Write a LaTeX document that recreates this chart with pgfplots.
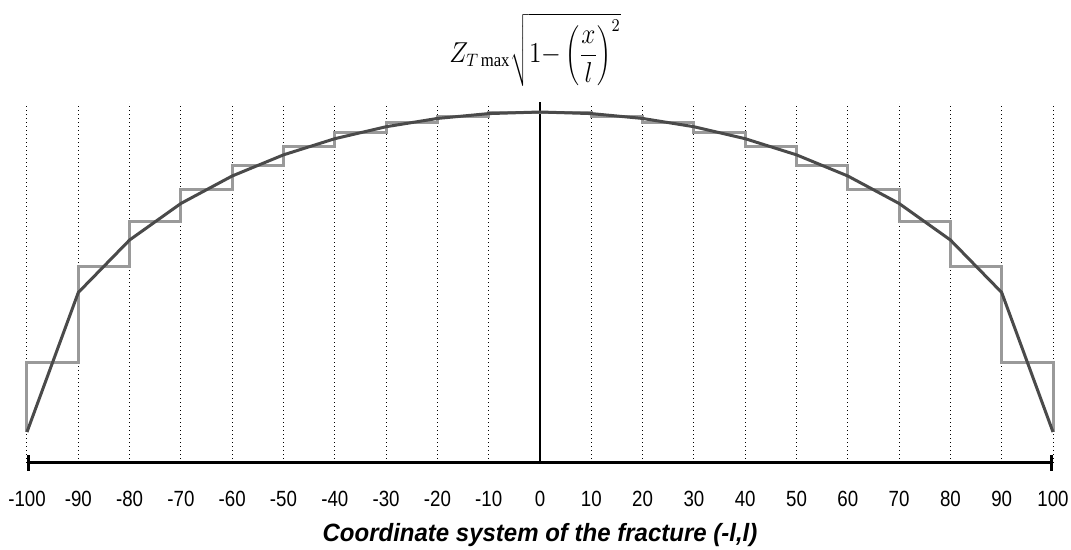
\documentclass[border=0pt]{standalone}
\usepackage{fontspec}
\setmainfont{Liberation Sans}
\newfontfamily\narrowfont[FakeStretch=0.85]{Liberation Sans}
\newfontfamily\labelfont[FakeStretch=0.96]{Liberation Sans}
\newfontfamily\seriffont{Liberation Serif}
\usepackage{graphicx}
\usepackage{pgfplots}
\pgfplotsset{compat=1.18}
\usetikzlibrary{arrows.meta}

\definecolor{curvegray}{HTML}{4A4A4A}
\definecolor{stepgray}{HTML}{9A9A9A}

\begin{document}
\begin{tikzpicture}
\useasboundingbox (-13.5pt,-43.5pt) rectangle (522pt,231.5pt);
\begin{axis}[
  at={(0,0)}, anchor=south west,
  scale only axis,
  width=513pt, height=179.5pt,
  xmin=-100, xmax=100,
  ymin=-0.0969, ymax=1.025,
  clip=false,
  axis x line=bottom,
  axis y line=none,
  x axis line style={line width=1.5pt, {Bar[width=8pt,line width=1.5pt]}-{Bar[width=8pt,line width=1.5pt]}},
  xtick={-100,-90,...,100},
  xticklabels={-100,-90,-80,-70,-60,-50,-40,-30,-20,-10,0,10,20,30,40,50,60,70,80,90,100},
  major tick length=0pt,
  xticklabel style={font=\narrowfont\fontsize{11}{13}\selectfont, anchor=north, inner sep=0pt, yshift=-14pt},
  xmajorgrids,
  grid style={black, line width=0.5pt, dash pattern=on 0.6pt off 1.4pt},
  xlabel={Coordinate system of the fracture (-l,l)},
  xlabel style={font=\labelfont\bfseries\itshape\fontsize{12.5}{15}\selectfont, at={(axis description cs:0.5,0)}, anchor=center, yshift=-36pt},
]
% centre line of the fracture
\addplot[black, line width=0.6pt] coordinates {(0,-0.0969) (0,1.03)};
% piecewise-constant approximation (mean of the two end values per segment)
\addplot[stepgray, line width=1.5pt] coordinates {
  (-100,0) (-100,0.21794) (-90,0.21794) (-90,0.51794) (-80,0.51794)
  (-80,0.65707) (-70,0.65707) (-70,0.75707) (-60,0.75707)
  (-60,0.83301) (-50,0.83301) (-50,0.89127) (-40,0.89127)
  (-40,0.93523) (-30,0.93523) (-30,0.96687) (-20,0.96687)
  (-20,0.98739) (-10,0.98739) (-10,0.99749) (10,0.99749)
  (10,0.98739) (20,0.98739) (20,0.96687) (30,0.96687)
  (30,0.93523) (40,0.93523) (40,0.89127) (50,0.89127)
  (50,0.83301) (60,0.83301) (60,0.75707) (70,0.75707)
  (70,0.65707) (80,0.65707) (80,0.51794) (90,0.51794)
  (90,0.21794) (100,0.21794) (100,0)
};
% elliptic opening profile
\addplot[curvegray, line width=1.5pt] coordinates {
  (-100,0) (-90,0.43589) (-80,0.6) (-70,0.71414) (-60,0.8)
  (-50,0.86603) (-40,0.91652) (-30,0.95394) (-20,0.97980) (-10,0.99499)
  (0,1) (10,0.99499) (20,0.97980) (30,0.95394) (40,0.91652)
  (50,0.86603) (60,0.8) (70,0.71414) (80,0.6) (90,0.43589) (100,0)
};
\end{axis}
\node[inner sep=0pt] at (254pt,206.5pt) {\scalebox{0.88}[1]{\fontsize{13.5}{16}\selectfont
  $\displaystyle Z_{T\kern1.5pt\hbox{\fontsize{9.5}{11}\seriffont max}}\sqrt{1{-}\left(\frac{x}{l}\right)^{2}}$}};
\end{tikzpicture}
\end{document}
